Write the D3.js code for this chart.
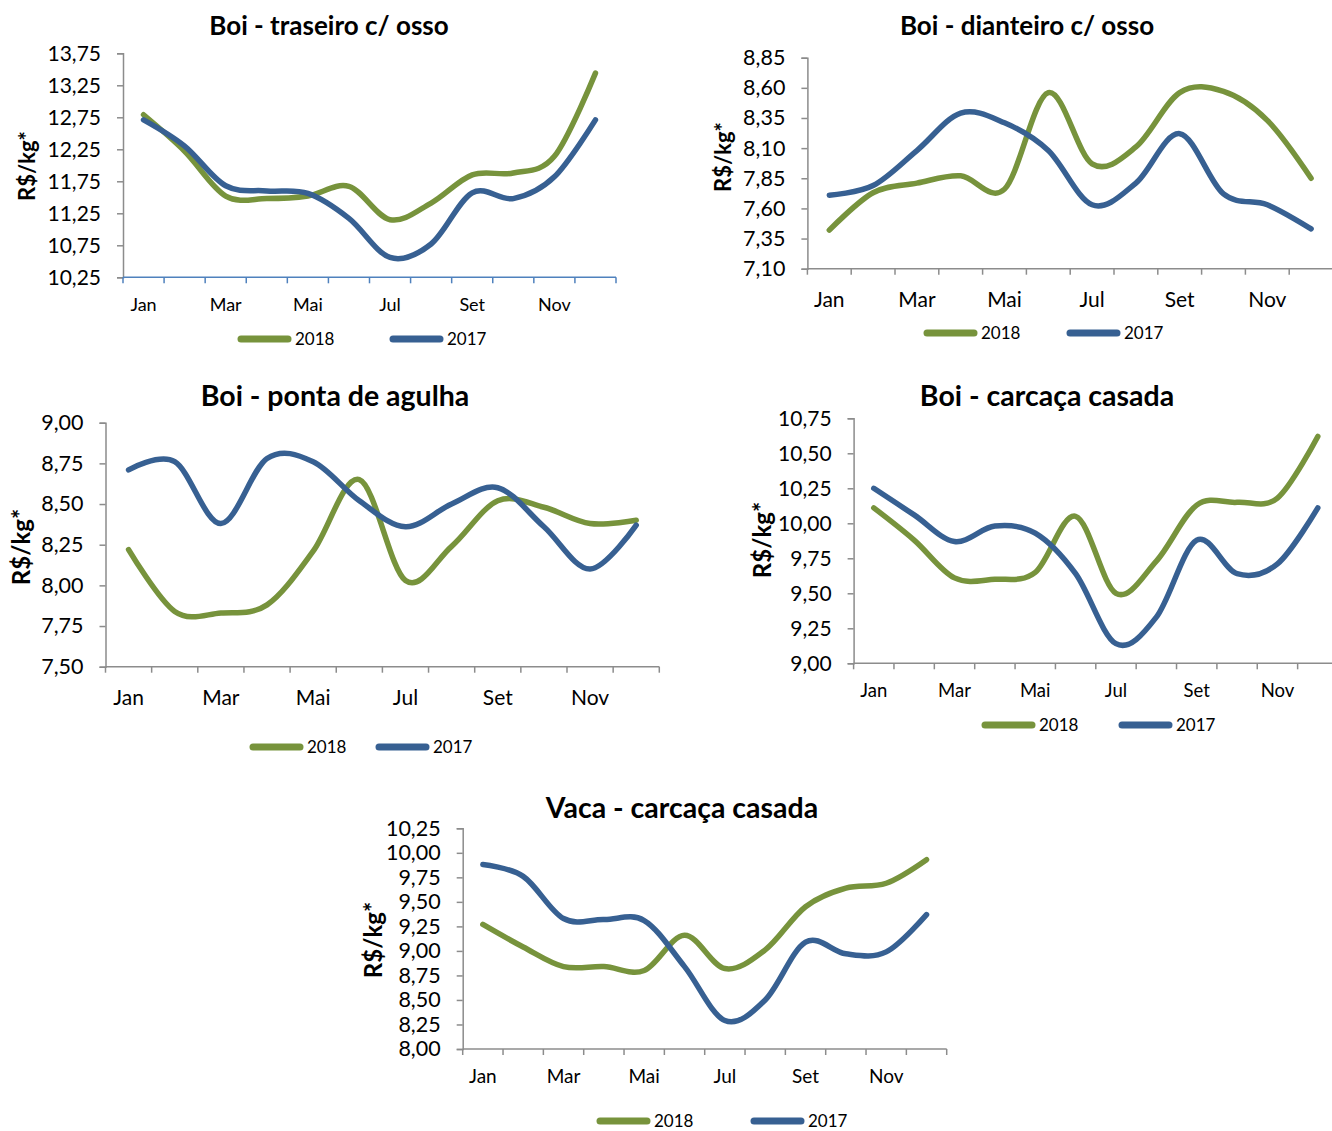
<!DOCTYPE html>
<html>
<head>
<meta charset="utf-8">
<script src="https://cdn.jsdelivr.net/npm/d3@7"></script>
<style>
  html, body { margin: 0; padding: 0; background: #fff; }
  svg { display: block; }
  text { font-family: Lato, "Open Sans", sans-serif; fill: #000; }
</style>
</head>
<body>
<svg id="chart" width="1332" height="1131"></svg>
<script>
// Month categories (labels shown on every other category)
const months = ["Jan", "Fev", "Mar", "Abr", "Mai", "Jun", "Jul", "Ago", "Set", "Out", "Nov", "Dez"];
const shownMonths = ["Jan", "Mar", "Mai", "Jul", "Set", "Nov"];
const seriesNames = ["2018", "2017"];

const titles = [
  "Boi - traseiro c/ osso",
  "Boi - dianteiro c/ osso",
  "Boi - ponta de agulha",
  "Boi - carcaça casada",
  "Vaca - carcaça casada"
];
const yAxisTitle = "R$/kg*";

// Prices in R$/kg, monthly
const traseiro2018 = [12.79, 12.22, 11.52, 11.48, 11.52, 11.67, 11.15, 11.41, 11.85, 11.88, 12.14, 13.44];
const traseiro2017 = [12.71, 12.30, 11.68, 11.60, 11.56, 11.17, 10.56, 10.77, 11.57, 11.48, 11.82, 12.71];

const dianteiro2018 = [7.42, 7.73, 7.81, 7.87, 7.76, 8.56, 7.97, 8.11, 8.56, 8.57, 8.33, 7.85];
const dianteiro2017 = [7.71, 7.79, 8.08, 8.39, 8.31, 8.08, 7.63, 7.81, 8.22, 7.72, 7.63, 7.43];

const agulha2018 = [8.22, 7.84, 7.83, 7.88, 8.21, 8.65, 8.03, 8.24, 8.52, 8.48, 8.38, 8.40];
const agulha2017 = [8.71, 8.76, 8.38, 8.78, 8.76, 8.52, 8.36, 8.50, 8.60, 8.36, 8.10, 8.37];

const boiCarcaca2018 = [10.11, 9.88, 9.61, 9.60, 9.65, 10.05, 9.50, 9.73, 10.13, 10.15, 10.18, 10.62];
const boiCarcaca2017 = [10.25, 10.06, 9.87, 9.98, 9.93, 9.64, 9.14, 9.33, 9.88, 9.64, 9.71, 10.11];

const vacaCarcaca2018 = [9.27, 9.04, 8.84, 8.84, 8.80, 9.16, 8.82, 9.01, 9.45, 9.64, 9.69, 9.93];
const vacaCarcaca2017 = [9.88, 9.76, 9.33, 9.32, 9.31, 8.84, 8.29, 8.50, 9.09, 8.97, 8.99, 9.37];

// Y-axis tick values per panel
const ticksTraseiro = [10.25, 10.75, 11.25, 11.75, 12.25, 12.75, 13.25, 13.75];
const ticksDianteiro = [7.10, 7.35, 7.60, 7.85, 8.10, 8.35, 8.60, 8.85];
const ticksAgulha = [7.50, 7.75, 8.00, 8.25, 8.50, 8.75, 9.00];
const ticksBoiCarcaca = [9.00, 9.25, 9.50, 9.75, 10.00, 10.25, 10.50, 10.75];
const ticksVacaCarcaca = [8.00, 8.25, 8.50, 8.75, 9.00, 9.25, 9.50, 9.75, 10.00, 10.25];

const colors = { "2018": "#77933c", "2017": "#376092" };

// Panel geometry (plot box, text placement)
const panels = [
  { title: titles[0], s18: traseiro2018, s17: traseiro2017, ticks: ticksTraseiro,
    x0: 123, x1: 616, y0: 53.3, y1: 277.3, xAxisColor: "#4f81bd",
    titleX: 329, titleY: 35, titleSize: 26, yTitleX: 27, yTitleY: 166, yTitleSize: 22,
    tickSize: 21, monthSize: 18, monthDy: 34, legY: 339, legX: [238, 390], legSize: 17 },
  { title: titles[1], s18: dianteiro2018, s17: dianteiro2017, ticks: ticksDianteiro,
    x0: 807.4, x1: 1333, y0: 57.7, y1: 268.7, xAxisColor: "#8c8c8c",
    titleX: 1027, titleY: 35, titleSize: 26, yTitleX: 723, yTitleY: 157, yTitleSize: 22,
    tickSize: 21.5, monthSize: 21, monthDy: 38, legY: 333, legX: [924, 1067], legSize: 17 },
  { title: titles[2], s18: agulha2018, s17: agulha2017, ticks: ticksAgulha,
    x0: 105.5, x1: 659.3, y0: 422.7, y1: 666.7, xAxisColor: "#8c8c8c",
    titleX: 335, titleY: 406, titleSize: 28.5, yTitleX: 22, yTitleY: 547, yTitleSize: 24,
    tickSize: 21.5, monthSize: 21, monthDy: 38, legY: 747, legX: [250, 376], legSize: 17 },
  { title: titles[3], s18: boiCarcaca2018, s17: boiCarcaca2017, ticks: ticksBoiCarcaca,
    x0: 853.6, x1: 1338, y0: 418.3, y1: 663.3, xAxisColor: "#8c8c8c",
    titleX: 1047, titleY: 406, titleSize: 28.5, yTitleX: 763, yTitleY: 540, yTitleSize: 24,
    tickSize: 21, monthSize: 18.5, monthDy: 34, legY: 725, legX: [982, 1119], legSize: 17 },
  { title: titles[4], s18: vacaCarcaca2018, s17: vacaCarcaca2017, ticks: ticksVacaCarcaca,
    x0: 462.7, x1: 946.7, y0: 828.3, y1: 1049, xAxisColor: "#8c8c8c",
    titleX: 682, titleY: 818, titleSize: 28.5, yTitleX: 374, yTitleY: 940, yTitleSize: 24,
    tickSize: 21.5, monthSize: 19, monthDy: 34, legY: 1121, legX: [597, 751], legSize: 17 }
];

const svg = d3.select("#chart");
const fmt = v => d3.format(".2f")(v).replace(".", ",");

panels.forEach(p => {
  const g = svg.append("g");

  const x = d3.scaleBand().domain(months).range([p.x0, p.x1]);
  const y = d3.scaleLinear()
    .domain([p.ticks[0], p.ticks[p.ticks.length - 1]])
    .range([p.y1, p.y0]);

  // Y axis
  const yAxis = g.append("g")
    .attr("transform", `translate(${p.x0},0)`)
    .call(d3.axisLeft(y).tickValues(p.ticks).tickFormat(fmt).tickSize(6).tickPadding(16));
  yAxis.select(".domain").attr("stroke", "#8c8c8c").attr("stroke-width", 1.5);
  yAxis.selectAll(".tick line").attr("stroke", "#8c8c8c").attr("stroke-width", 1.5);
  yAxis.selectAll(".tick text")
    .style("font-family", "Lato, sans-serif")
    .style("font-size", p.tickSize + "px")
    .attr("fill", "#000");

  // X axis: ticks at category boundaries
  const bounds = months.map(m => x(m)).concat([p.x1]);
  const xAxis = g.append("g").attr("transform", `translate(0,${p.y1})`);
  xAxis.append("line")
    .attr("x1", p.x0).attr("x2", p.x1)
    .attr("stroke", p.xAxisColor).attr("stroke-width", 1.5);
  xAxis.selectAll("line.tk").data(bounds).join("line")
    .attr("class", "tk")
    .attr("x1", d => d).attr("x2", d => d)
    .attr("y1", 0).attr("y2", 6)
    .attr("stroke", p.xAxisColor).attr("stroke-width", 1.5);
  xAxis.selectAll("text").data(shownMonths).join("text")
    .attr("x", d => x(d) + x.bandwidth() / 2)
    .attr("y", p.monthDy)
    .attr("text-anchor", "middle")
    .style("font-size", p.monthSize + "px")
    .text(d => d);

  // Smoothed series lines
  const line = d3.line()
    .x((d, i) => x(months[i]) + x.bandwidth() / 2)
    .y(d => y(d))
    .curve(d3.curveCatmullRom.alpha(0));

  [["2018", p.s18], ["2017", p.s17]].forEach(([name, vals]) => {
    g.append("path")
      .datum(vals)
      .attr("d", line)
      .attr("fill", "none")
      .attr("stroke", colors[name])
      .attr("stroke-width", 5.5)
      .attr("stroke-linecap", "round")
      .attr("stroke-linejoin", "round");
  });

  // Title
  g.append("text")
    .attr("x", p.titleX).attr("y", p.titleY)
    .attr("text-anchor", "middle")
    .style("font-size", p.titleSize + "px")
    .style("font-weight", "bold")
    .text(p.title);

  // Y-axis title
  g.append("text")
    .attr("transform", `translate(${p.yTitleX},${p.yTitleY}) rotate(-90)`)
    .attr("text-anchor", "middle")
    .attr("dy", "0.35em")
    .style("font-size", p.yTitleSize + "px")
    .style("font-weight", "bold")
    .text(yAxisTitle);

  // Legend
  seriesNames.forEach((name, i) => {
    const lx = p.legX[i];
    g.append("line")
      .attr("x1", lx + 3).attr("x2", lx + 50)
      .attr("y1", p.legY).attr("y2", p.legY)
      .attr("stroke", colors[name])
      .attr("stroke-width", 7)
      .attr("stroke-linecap", "round");
    g.append("text")
      .attr("x", lx + 57).attr("y", p.legY)
      .attr("dy", "0.34em")
      .style("font-size", p.legSize + "px")
      .text(name);
  });
});
</script>
</body>
</html>
